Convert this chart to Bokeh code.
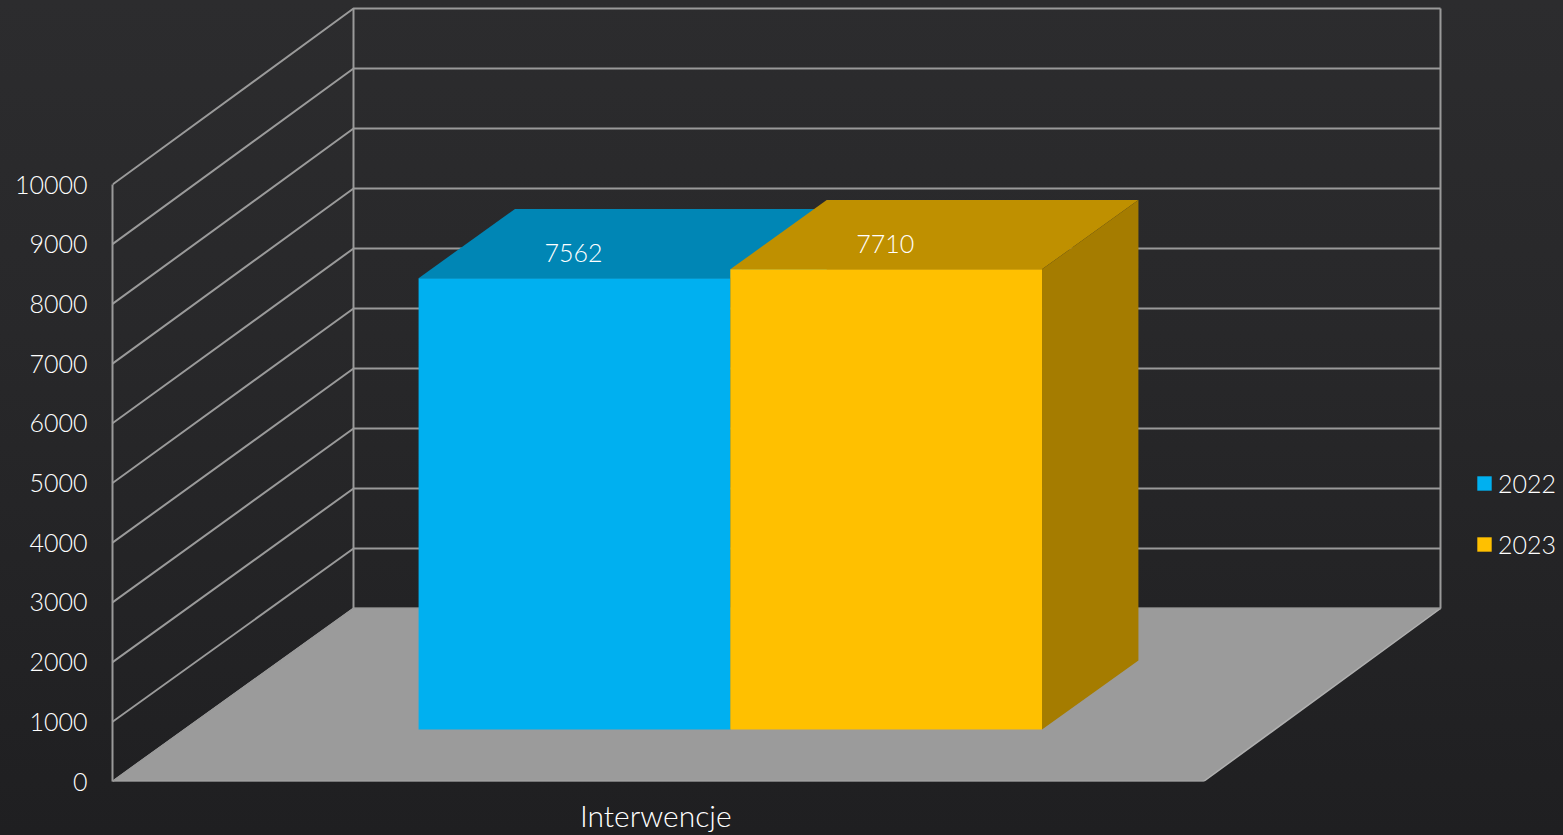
from bokeh.plotting import figure
from bokeh.models import Range1d, FixedTicker, Legend, LegendItem
from bokeh.core.properties import value
from bokeh.embed import file_html
from bokeh.resources import INLINE

# data
category = "Interwencje"
years = ["2022", "2023"]
values = [7562, 7710]
front_colors = ["#00B0F0", "#FFC000"]
top_colors = ["#0086B5", "#BF9000"]
side_colors = ["#0078A3", "#A57C00"]
value_ticks = [0, 1000, 2000, 3000, 4000, 5000, 6000, 7000, 8000, 9000, 10000]

FONT = "Lato Light"
GRID = "#9A9A9A"
TEXT = "#FFFFFF"

# oblique projection of the chart box, in data units
W_PX, PX_PER_UNIT = 1091.0, 0.0597
DEPTH_X = 241.0 / W_PX
DEPTH_V = 173.0 / PX_PER_UNIT
BACK_W = (1440.0 - 353.0) / W_PX
BACK_V = 600.0 / 597.0
GAP = 1.5
BAR_W = 1.0 / (len(values) + GAP)
D0, D1 = 0.3, 0.7


def px(u, d):
    return u + d * DEPTH_X


def py(v, d):
    return v + d * DEPTH_V


W, H = 1563, 835
LEFT, BOTTOM = 112, H - 781
p = figure(width=W, height=H, output_backend="svg", toolbar_location=None,
           x_range=Range1d(0, (W - LEFT) / W_PX),
           y_range=Range1d(0, 781 / PX_PER_UNIT),
           min_border_left=LEFT, min_border_bottom=BOTTOM, min_border_top=0, min_border_right=0,
           background_fill_alpha=0, border_fill_alpha=0, outline_line_color=None,
           styles={"background": "linear-gradient(180deg,#2C2C2E 0%,#28282A 40%,#1F1F21 100%)"})
p.grid.visible = False

# floor
p.patch([px(0, 0), px(0, 1), px(BACK_W, 1), px(1, 0)], [py(0, 0), py(0, 1), py(0, 1), py(0, 0)],
        fill_color="#9B9B9B", line_color="#B0B0B0", line_width=1.5)

# walls and grid
for t in value_ticks:
    vb = t * BACK_V
    p.line([px(0, 0), px(0, 1), px(BACK_W, 1)], [py(t, 0), py(vb, 1), py(vb, 1)],
           line_color=GRID, line_width=2)
top = value_ticks[-1] * BACK_V
p.line([px(0, 1), px(0, 1)], [py(0, 1), py(top, 1)], line_color=GRID, line_width=2)
p.line([px(BACK_W, 1), px(BACK_W, 1)], [py(0, 1), py(top, 1)], line_color=GRID, line_width=2)

# bars
x_start = GAP / 2 * BAR_W
fronts = []
for i, val in enumerate(values):
    a, b = x_start + i * BAR_W, x_start + (i + 1) * BAR_W
    p.patch([px(a, D0), px(b, D0), px(b, D1), px(a, D1)], [py(val, D0), py(val, D0), py(val, D1), py(val, D1)],
            fill_color=top_colors[i], line_color=None)
    p.patch([px(b, D0), px(b, D1), px(b, D1), px(b, D0)], [py(0, D0), py(0, D1), py(val, D1), py(val, D0)],
            fill_color=side_colors[i], line_color=None)
    fronts.append(p.patch([px(a, D0), px(b, D0), px(b, D0), px(a, D0)], [py(0, D0), py(0, D0), py(val, D0), py(val, D0)],
                          fill_color=front_colors[i], line_color=None))
    p.text(x=[px((a + b) / 2, D0)], y=[py(val, D0)], text=[str(val)], x_offset=-1, y_offset=-25,
           text_font=value(FONT), text_font_size="25px", text_color=TEXT,
           text_align="center", text_baseline="middle")

# axes
ya = p.yaxis[0]
ya.ticker = FixedTicker(ticks=value_ticks)
ya.bounds = (value_ticks[0], value_ticks[-1])
ya.major_tick_line_color = None
ya.minor_tick_line_color = None
ya.axis_line_color = GRID
ya.axis_line_width = 2
ya.major_label_text_font = FONT
ya.major_label_text_font_size = "25px"
ya.major_label_text_color = TEXT
ya.major_label_standoff = 19
ya.major_label_text_align = "right"

xa = p.xaxis[0]
xa.ticker = FixedTicker(ticks=[0.498])
xa.major_label_overrides = {0.498: category}
xa.major_tick_line_color = None
xa.minor_tick_line_color = None
xa.axis_line_color = None
xa.major_label_text_font = FONT
xa.major_label_text_font_size = "30px"
xa.major_label_text_color = TEXT
xa.major_label_standoff = 9

legend = Legend(items=[LegendItem(label=y, renderers=[r]) for y, r in zip(years, fronts)],
                location=(1363, 222), orientation="vertical",
                background_fill_alpha=0, border_line_color=None,
                glyph_width=18, glyph_height=18, label_standoff=5, spacing=31,
                padding=0, margin=0, label_text_font=FONT, label_text_font_size="25px",
                label_text_color=TEXT, label_height=26)
p.add_layout(legend, "center")

html = file_html(p, INLINE)
html = html.replace("<head>", "<head><style>html,body{margin:0;padding:0;overflow:hidden;background:#242426}</style>", 1)
open("out.html", "w").write(html)
